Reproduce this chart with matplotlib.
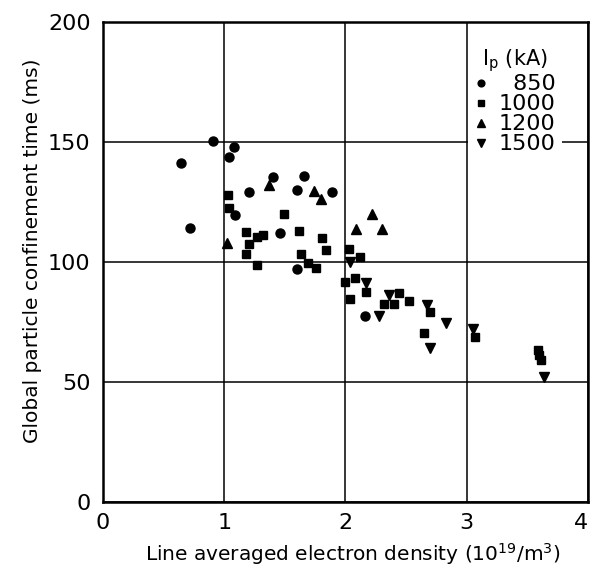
import matplotlib
matplotlib.use('Agg')
import matplotlib.pyplot as plt

# I_p = 850 kA (circles)
x_850 = [0.91, 1.08, 1.04, 0.64, 1.40, 1.66, 1.20, 1.60, 1.89, 1.09, 0.72, 1.46, 1.60, 2.16]
y_850 = [150.4, 147.9, 143.8, 141.3, 135.2, 135.8, 128.9, 129.9, 128.9, 119.5, 113.9, 112.0, 96.8, 77.4]

# I_p = 1000 kA (squares)
x_1000 = [1.03, 1.04, 1.49, 1.18, 1.27, 1.32, 1.62, 1.81, 1.20, 1.18, 1.63, 1.84, 1.27, 1.69,
          1.76, 2.03, 2.12, 2.00, 2.08, 2.17, 2.04, 2.32, 2.40, 2.44, 2.52, 2.70, 2.65, 3.07,
          3.59, 3.60, 3.61]
y_1000 = [127.8, 122.2, 119.8, 112.5, 110.4, 111.1, 112.8, 109.7, 107.4, 103.1, 103.1, 104.9, 98.6, 99.6,
          97.2, 105.2, 101.8, 91.5, 93.0, 87.5, 84.6, 82.2, 82.2, 87.1, 83.6, 78.9, 70.4, 68.5,
          63.2, 61.1, 59.0]

# I_p = 1200 kA (up triangles)
x_1200 = [1.37, 1.02, 1.74, 1.80, 2.22, 2.09, 2.30]
y_1200 = [132.0, 107.9, 129.6, 126.0, 119.9, 113.7, 113.5]

# I_p = 1500 kA (down triangles)
x_1500 = [2.04, 2.17, 2.28, 2.36, 2.67, 2.83, 2.70, 3.05, 3.64]
y_1500 = [100.0, 91.0, 77.4, 86.1, 82.0, 74.3, 63.9, 71.8, 52.1]

x_ticks = [0, 1, 2, 3, 4]
y_ticks = [0, 50, 100, 150, 200]

fig = plt.figure(figsize=(5.91, 5.80), dpi=100)
ax = fig.add_axes([0.1743, 0.135, 0.8206, 0.8276])

ax.plot(x_850, y_850, 'o', color='black', ms=6.5, label='\u2007850', zorder=3)
ax.plot(x_1000, y_1000, 's', color='black', ms=6, label='1000', zorder=3)
ax.plot(x_1200, y_1200, '^', color='black', ms=7, label='1200', zorder=3)
ax.plot(x_1500, y_1500, 'v', color='black', ms=7, label='1500', zorder=3)

ax.set_xlim(0, 4)
ax.set_ylim(0, 200)
ax.set_xticks(x_ticks)
ax.set_yticks(y_ticks)
ax.tick_params(length=0, labelsize=16)
ax.tick_params(axis='x', pad=8)
ax.tick_params(axis='y', pad=9)
ax.get_xticklabels()[-1].set_ha('right')
ax.grid(True, color='black', linewidth=1.1)
ax.set_axisbelow(True)
for s in ax.spines.values():
    s.set_linewidth(1.8)

ax.set_xlabel('Line averaged electron density (10$^{19}$/m$^3$)', fontsize=14.5)
ax.set_ylabel('Global particle confinement time (ms)', fontsize=14.5)
ax.xaxis.set_label_coords(0.515, -0.083)
ax.yaxis.set_label_coords(-0.126, 0.522)

leg = ax.legend(title='I$_\\mathrm{p}$ (kA)', loc='upper left', bbox_to_anchor=(0.752, 0.96),
                borderaxespad=0, fontsize=16, title_fontsize=15, markerscale=0.75,
                handlelength=0.6, handletextpad=0.5, labelspacing=0.0,
                fancybox=False, framealpha=1, edgecolor='none', borderpad=0.3)
leg.get_title().set_ha('right')

plt.savefig('out.png', dpi=100)
